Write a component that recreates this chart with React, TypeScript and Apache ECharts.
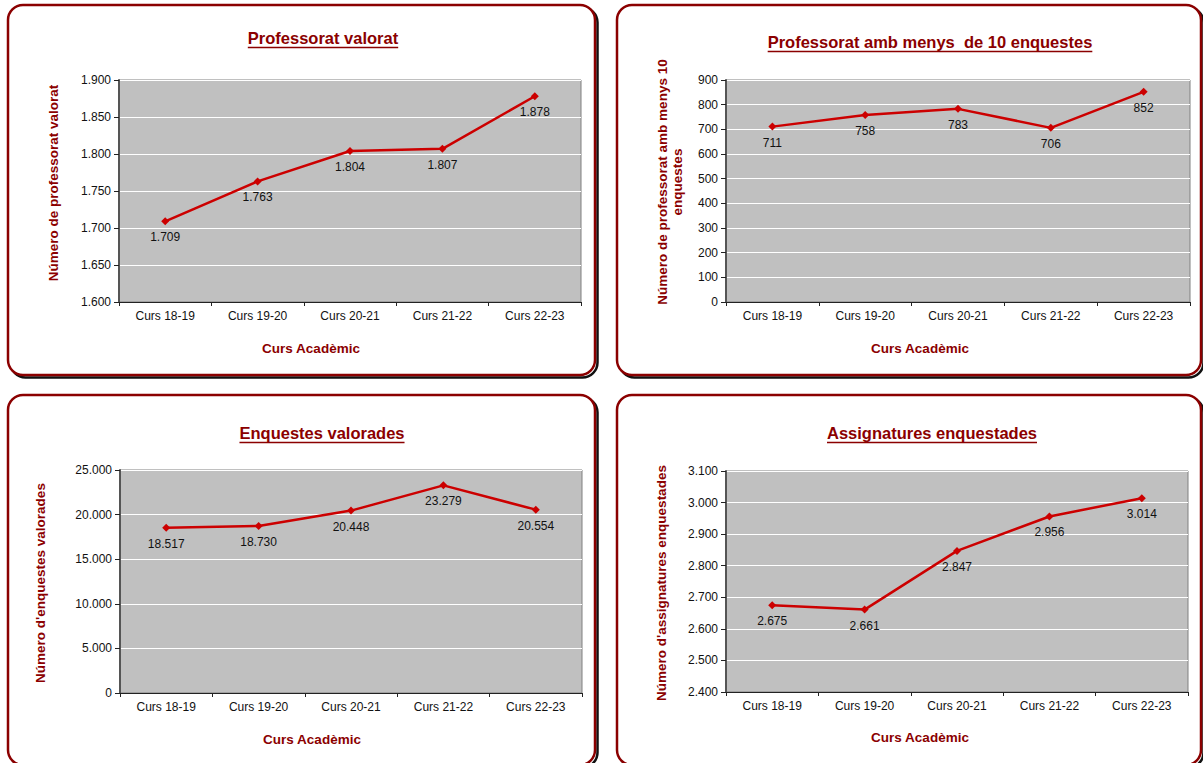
import React, { useEffect, useRef } from "react";
import * as echarts from "echarts";

const categories = ["Curs 18-19", "Curs 19-20", "Curs 20-21", "Curs 21-22", "Curs 22-23"];
const professoratValorat = [1709, 1763, 1804, 1807, 1878];
const professoratMenys10 = [711, 758, 783, 706, 852];
const enquestesValorades = [18517, 18730, 20448, 23279, 20554];
const assignaturesEnquestades = [2675, 2661, 2847, 2956, 3014];

const titles = [
  "Professorat valorat",
  "Professorat amb menys  de 10 enquestes",
  "Enquestes valorades",
  "Assignatures enquestades",
];
const yNames = [
  "Número de professorat valorat",
  "Número de professorat amb menys 10\nenquestes",
  "Número d'enquestes valorades",
  "Número d'assignatures enquestades",
];
const xName = "Curs Acadèmic";
const yRanges = [
  { min: 1600, max: 1900, interval: 50 },
  { min: 0, max: 900, interval: 100 },
  { min: 0, max: 25000, interval: 5000 },
  { min: 2400, max: 3100, interval: 100 },
];

const FONT = "'Liberation Sans', Arial, sans-serif";
const DARK_RED = "#8B0000";
const LINE_RED = "#CC0000";

const fmt = (v: number) => String(Math.round(v)).replace(/\B(?=(\d{3})+(?!\d))/g, ".");

function measure(text: string, font: string): number {
  const c = document.createElement("canvas");
  const ctx = c.getContext("2d");
  if (!ctx) return text.length * 8;
  ctx.font = font;
  return ctx.measureText(text).width;
}

export default function App() {
  const ref = useRef<HTMLDivElement>(null);
  useEffect(() => {
    if (!ref.current) return;
    const chart = echarts.init(ref.current, null, { renderer: "svg" });

    const grids = [
      { left: 119, top: 80, width: 462, height: 222 },
      { left: 726, top: 80, width: 464, height: 222 },
      { left: 120, top: 470, width: 462, height: 223 },
      { left: 726, top: 471, width: 462, height: 221 },
    ];
    const panels = [
      { x: 8, y: 5, w: 587, h: 370 },
      { x: 617, y: 5, w: 584, h: 370 },
      { x: 8, y: 395, w: 587, h: 370 },
      { x: 617, y: 395, w: 584, h: 370 },
    ];
    const titlePos = [
      { x: 323, y: 38 },
      { x: 930, y: 42 },
      { x: 322, y: 433 },
      { x: 932, y: 433 },
    ];
    const xNamePos = [
      { x: 311, y: 348 },
      { x: 920, y: 348 },
      { x: 312, y: 739 },
      { x: 920, y: 737 },
    ];
    const yNamePos = [
      { x: 53, y: 183 },
      { x: 670, y: 182 },
      { x: 40, y: 583 },
      { x: 661, y: 583 },
    ];
    const seriesData = [professoratValorat, professoratMenys10, enquestesValorades, assignaturesEnquestades];

    const graphic: any[] = [];
    panels.forEach((p) => {
      graphic.push({
        type: "rect",
        z: -20,
        shape: { x: p.x + 2.5, y: p.y + 2.5, width: p.w, height: p.h, r: 15 },
        style: { fill: "none", stroke: "#111", lineWidth: 2.5 },
        silent: true,
      });
      graphic.push({
        type: "rect",
        z: -19,
        shape: { x: p.x, y: p.y, width: p.w, height: p.h, r: 15 },
        style: { fill: "#fff", stroke: DARK_RED, lineWidth: 2.5 },
        silent: true,
      });
    });
    const titleFont = `bold 16.5px ${FONT}`;
    titles.forEach((t, i) => {
      const w = measure(t, titleFont);
      const p = titlePos[i];
      graphic.push({
        type: "text",
        x: p.x,
        y: p.y,
        style: {
          text: t,
          fill: DARK_RED,
          font: titleFont,
          align: "center",
          verticalAlign: "middle",
        },
      });
      graphic.push({
        type: "line",
        shape: { x1: p.x - w / 2, y1: p.y + 9.5, x2: p.x + w / 2, y2: p.y + 9.5 },
        style: { stroke: DARK_RED, lineWidth: 1.3 },
      });
    });
    xNamePos.forEach((p) => {
      graphic.push({
        type: "text",
        x: p.x,
        y: p.y,
        style: {
          text: xName,
          fill: DARK_RED,
          font: `bold 13.5px ${FONT}`,
          align: "center",
          verticalAlign: "middle",
        },
      });
    });
    yNames.forEach((t, i) => {
      const p = yNamePos[i];
      graphic.push({
        type: "text",
        x: p.x,
        y: p.y,
        rotation: Math.PI / 2,
        style: {
          text: t,
          fill: DARK_RED,
          font: `bold 13.5px ${FONT}`,
          align: "center",
          verticalAlign: "middle",
          lineHeight: 15,
        },
      });
    });

    const option: any = {
      animation: false,
      textStyle: { fontFamily: FONT },
      grid: grids.map((g) => ({
        ...g,
        show: true,
        backgroundColor: "#C0C0C0",
        borderColor: "#808080",
        borderWidth: 1,
        containLabel: false,
      })),
      xAxis: grids.map((_, i) => ({
        type: "category",
        gridIndex: i,
        data: categories,
        boundaryGap: true,
        axisLine: { show: true, lineStyle: { color: "#222", width: 1 } },
        axisTick: { show: true, length: 4, lineStyle: { color: "#222" } },
        axisLabel: { color: "#111", fontSize: 12, margin: 8, fontFamily: FONT },
        splitLine: { show: false },
      })),
      yAxis: grids.map((_, i) => ({
        type: "value",
        gridIndex: i,
        min: yRanges[i].min,
        max: yRanges[i].max,
        interval: yRanges[i].interval,
        axisLine: { show: true, lineStyle: { color: "#555", width: 2 } },
        axisTick: { show: true, length: 5, lineStyle: { color: "#222" } },
        axisLabel: {
          color: "#111",
          fontSize: 12,
          margin: 8,
          fontFamily: FONT,
          formatter: (v: number) => fmt(v),
        },
        splitLine: { show: true, lineStyle: { color: "#FFFFFF", width: 1 } },
      })),
      series: seriesData.map((d, i) => ({
        type: "line",
        xAxisIndex: i,
        yAxisIndex: i,
        data: d,
        symbol: "diamond",
        symbolSize: 8,
        lineStyle: { color: LINE_RED, width: 2.5 },
        itemStyle: { color: LINE_RED },
        label: {
          show: true,
          position: "bottom",
          distance: 6,
          color: "#111",
          fontSize: 12,
          fontFamily: FONT,
          formatter: (p: any) => fmt(p.value),
        },
      })),
      graphic,
    };
    chart.setOption(option);
    return () => chart.dispose();
  }, []);
  return (
    <div
      ref={ref}
      style={{ position: "absolute", left: 0, top: 0, width: 1203, height: 763, background: "#fff" }}
    />
  );
}
